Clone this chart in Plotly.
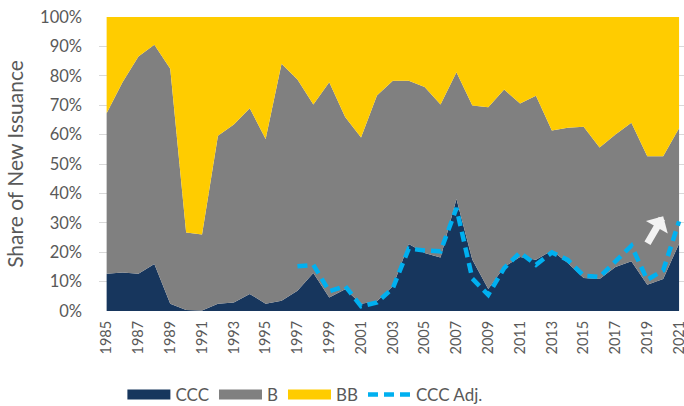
import plotly.graph_objects as go

years = list(range(1985, 2022))

ccc = [12.7, 13.1, 12.7, 16.0, 2.5, 0.3, 0.2, 2.5, 2.9, 5.8, 2.5, 3.5, 6.9, 12.9, 4.6, 7.4,
       2.5, 3.3, 8.4, 22.8, 19.7, 18.2, 38.1, 17.4, 7.5, 15.0, 18.4, 17.4, 20.6, 16.3,
       11.2, 10.9, 15.0, 16.9, 8.9, 10.9, 22.9]
b = [54.6, 64.7, 73.9, 74.6, 79.9, 26.4, 25.8, 57.1, 60.5, 63.2, 56.0, 80.6, 71.8, 57.3,
     73.2, 58.6, 56.5, 70.0, 69.9, 55.5, 56.5, 52.0, 43.1, 52.5, 61.8, 60.3, 52.2, 55.8,
     40.8, 46.0, 51.5, 44.7, 45.0, 47.1, 43.7, 41.7, 39.3]
bb = [32.7, 22.2, 13.4, 9.4, 17.6, 73.3, 74.0, 40.4, 36.6, 31.0, 41.5, 15.9, 21.3, 29.8,
      22.2, 34.0, 41.0, 26.7, 21.7, 21.7, 23.8, 29.8, 18.8, 30.1, 30.7, 24.7, 29.4, 26.8,
      38.6, 37.7, 37.3, 44.4, 40.0, 36.0, 47.4, 47.4, 37.8]
ccc_adj = [None] * 12 + [15.2, 15.7, 6.7, 8.5, 1.6, 2.9, 7.8, 21.2, 20.6, 20.3, 35.0, 11.0,
                         5.5, 14.6, 19.9, 15.7, 19.9, 17.4, 12.0, 11.6, 16.9, 22.2, 10.6,
                         13.8, 30.5]

tick_years = list(range(1985, 2022, 2))
tick_text = [str(y) for y in tick_years]
y_ticks = list(range(0, 101, 10))
y_tick_text = [f"{v}%" for v in y_ticks]

series = [("CCC", ccc, "#17365d"), ("B", b, "#808080"), ("BB", bb, "#ffcc00")]
FONT = "Lato"
GRAY = "#595959"

fig = go.Figure()
for name, vals, col in series:
    fig.add_trace(go.Scatter(x=years, y=vals, name=name, stackgroup="one",
                             mode="none", fillcolor=col, line=dict(width=0),
                             showlegend=False, hoverinfo="skip"))
fig.add_trace(go.Scatter(x=years, y=ccc_adj, name="CCC Adj.", mode="lines",
                         line=dict(color="#00b0f0", width=4.5, dash="10px,6px"),
                         showlegend=False, connectgaps=False))
# legend entries
for name, vals, col in series:
    fig.add_trace(go.Scatter(x=[None], y=[None], name=name, mode="lines",
                             line=dict(color=col, width=12)))
fig.add_trace(go.Scatter(x=[None], y=[None], name="CCC Adj.", mode="lines",
                         line=dict(color="#00b0f0", width=4.5, dash="10px,6px")))

fig.add_annotation(x=2020.0, y=32.2, ax=2018.96, ay=22.5, xref="x", yref="y",
                   axref="x", ayref="y", text="", showarrow=True, arrowhead=1,
                   arrowsize=0.6, arrowwidth=7, arrowcolor="#f2f2f2", standoff=0)

fig.update_layout(
    width=684, height=406,
    margin=dict(l=99, r=0, t=17, b=95),
    paper_bgcolor="white", plot_bgcolor="white",
    font=dict(family=FONT, color=GRAY),
    legend=dict(orientation="h", x=0.04, xanchor="left", yref="container", y=0.027,
                yanchor="middle", traceorder="normal", itemwidth=43,
                font=dict(size=17, family=FONT, color=GRAY),
                bgcolor="rgba(0,0,0,0)"),
    xaxis=dict(range=[1984.52, 2021.31], tickvals=tick_years, ticktext=tick_text,
               tickangle=-90, tickfont=dict(size=14.5, family=FONT, color=GRAY),
               showgrid=False, zeroline=False, showline=False, ticks="",
               ticklabelstandoff=6, automargin=False, ticklabeloverflow="allow"),
    yaxis=dict(range=[0, 100], tickvals=y_ticks, ticktext=y_tick_text,
               tickfont=dict(size=16.5, family=FONT, color=GRAY),
               showgrid=True, gridcolor="#d9d9d9", gridwidth=1, zeroline=False,
               showline=False, ticks="", ticklabelstandoff=16, automargin=False,
               title=dict(text="Share of New Issuance", font=dict(size=21, family=FONT, color=GRAY),
                          standoff=10)),
)

# remove the default 8px page margin so the 684x406 figure fills the window exactly
fig.write_html("out.html", config={"displayModeBar": False},
               post_script="document.body.style.margin='0px';")
